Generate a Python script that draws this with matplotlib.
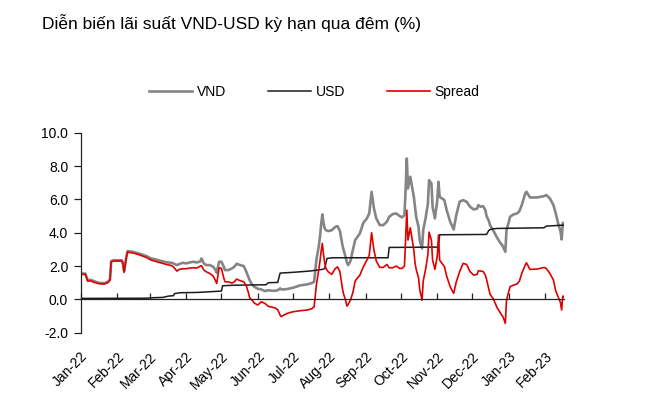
import matplotlib
matplotlib.use('Agg')
import matplotlib.pyplot as plt
from matplotlib.ticker import FormatStrFormatter
import pandas as pd

plt.rcParams['font.family'] = ['Liberation Sans', 'DejaVu Sans']

# VND overnight rate and VND-USD spread (%)
dates = ['2022-01-01', '2022-01-05', '2022-01-07', '2022-01-09', '2022-01-12', '2022-01-16',
         '2022-01-21', '2022-01-24', '2022-01-26', '2022-01-27', '2022-01-29', '2022-02-05',
         '2022-02-06', '2022-02-07', '2022-02-09', '2022-02-10', '2022-02-15', '2022-02-19',
         '2022-02-22', '2022-02-26', '2022-03-02', '2022-03-07', '2022-03-12', '2022-03-16',
         '2022-03-19', '2022-03-21', '2022-03-24', '2022-03-26', '2022-03-29', '2022-04-01',
         '2022-04-04', '2022-04-07', '2022-04-10', '2022-04-13', '2022-04-14', '2022-04-16',
         '2022-04-18', '2022-04-21', '2022-04-24', '2022-04-26', '2022-04-27', '2022-04-29',
         '2022-05-01', '2022-05-03', '2022-05-04', '2022-05-07', '2022-05-10', '2022-05-12',
         '2022-05-14', '2022-05-17', '2022-05-20', '2022-05-22', '2022-05-24', '2022-05-25',
         '2022-05-27', '2022-05-29', '2022-06-01', '2022-06-04', '2022-06-07', '2022-06-10',
         '2022-06-13', '2022-06-16', '2022-06-18', '2022-06-20', '2022-06-21', '2022-06-23',
         '2022-06-26', '2022-07-01', '2022-07-07', '2022-07-13', '2022-07-17', '2022-07-19',
         '2022-07-20', '2022-07-21', '2022-07-23', '2022-07-24', '2022-07-25', '2022-07-26',
         '2022-07-27', '2022-07-28', '2022-07-29', '2022-07-31', '2022-08-03', '2022-08-06',
         '2022-08-08', '2022-08-10', '2022-08-12', '2022-08-13', '2022-08-15', '2022-08-16',
         '2022-08-17', '2022-08-19', '2022-08-21', '2022-08-23', '2022-08-24', '2022-08-27',
         '2022-08-30', '2022-09-02', '2022-09-04', '2022-09-06', '2022-09-08', '2022-09-10',
         '2022-09-13', '2022-09-16', '2022-09-19', '2022-09-21', '2022-09-24', '2022-09-27',
         '2022-09-30', '2022-10-02', '2022-10-04', '2022-10-05', '2022-10-06', '2022-10-07',
         '2022-10-09', '2022-10-10', '2022-10-12', '2022-10-13', '2022-10-14', '2022-10-16',
         '2022-10-17', '2022-10-19', '2022-10-20', '2022-10-22', '2022-10-24', '2022-10-25',
         '2022-10-27', '2022-10-28', '2022-10-30', '2022-11-01', '2022-11-02', '2022-11-03',
         '2022-11-05', '2022-11-07', '2022-11-09', '2022-11-12', '2022-11-15', '2022-11-17',
         '2022-11-20', '2022-11-23', '2022-11-26', '2022-11-29', '2022-12-02', '2022-12-05',
         '2022-12-06', '2022-12-08', '2022-12-10', '2022-12-12', '2022-12-13', '2022-12-15',
         '2022-12-16', '2022-12-19', '2022-12-22', '2022-12-25', '2022-12-26', '2022-12-27',
         '2022-12-29', '2022-12-30', '2023-01-01', '2023-01-02', '2023-01-05', '2023-01-08',
         '2023-01-10', '2023-01-12', '2023-01-15', '2023-01-16', '2023-01-19', '2023-01-25',
         '2023-01-31', '2023-02-02', '2023-02-05', '2023-02-08', '2023-02-10', '2023-02-12',
         '2023-02-14', '2023-02-15', '2023-02-16', '2023-02-17']

vnd = [1.55, 1.55, 1.15, 1.18, 1.10, 1.00,
       0.97, 1.05, 1.20, 2.30, 2.35, 2.35,
       2.20, 1.70, 2.60, 2.90, 2.85, 2.76,
       2.70, 2.60, 2.46, 2.38, 2.28, 2.22,
       2.20, 2.16, 2.06, 2.12, 2.20, 2.16,
       2.22, 2.26, 2.22, 2.28, 2.46, 2.16,
       2.06, 2.06, 1.96, 1.76, 1.60, 2.26,
       2.26, 1.96, 1.76, 1.76, 1.86, 1.96,
       2.14, 2.06, 2.00, 1.70, 1.35, 1.16,
       0.90, 0.76, 0.64, 0.60, 0.50, 0.55,
       0.52, 0.52, 0.55, 0.66, 0.60, 0.60,
       0.62, 0.70, 0.84, 0.90, 0.98, 1.06,
       1.70, 2.40, 3.20, 3.76, 4.50, 5.10,
       4.60, 4.26, 4.16, 4.10, 4.15, 4.35,
       4.40, 4.10, 3.30, 3.00, 2.50, 2.20,
       2.06, 2.30, 2.96, 3.56, 3.66, 3.96,
       4.60, 4.86, 5.16, 6.46, 5.46, 4.86,
       4.46, 4.46, 4.66, 4.96, 5.12, 5.16,
       5.00, 4.92, 5.06, 6.56, 8.46, 6.66,
       7.36, 6.96, 6.16, 5.56, 4.96, 4.36,
       3.56, 3.06, 4.16, 4.86, 5.76, 7.16,
       6.96, 5.56, 4.86, 5.96, 7.06, 6.16,
       6.06, 5.96, 5.36, 4.66, 4.20, 5.00,
       5.86, 5.96, 5.86, 5.56, 5.40, 5.45,
       5.66, 5.56, 5.60, 5.36, 5.00, 4.70,
       4.45, 4.10, 3.70, 3.36, 3.30, 3.16,
       2.86, 4.16, 4.66, 4.96, 5.10, 5.16,
       5.30, 5.66, 6.36, 6.46, 6.12, 6.12,
       6.20, 6.26, 6.06, 5.66, 5.16, 4.56,
       4.10, 3.60, 4.60, 4.50]

spread = [1.50, 1.50, 1.10, 1.12, 1.04, 0.95,
          0.92, 1.00, 1.15, 2.25, 2.30, 2.30,
          2.14, 1.62, 2.52, 2.84, 2.78, 2.70,
          2.62, 2.52, 2.36, 2.26, 2.16, 2.08,
          2.04, 1.96, 1.70, 1.80, 1.84, 1.84,
          1.88, 1.90, 1.88, 2.00, 2.02, 1.76,
          1.66, 1.56, 1.40, 1.10, 0.96, 1.90,
          1.86, 1.28, 1.06, 1.05, 0.98, 1.06,
          1.22, 1.12, 1.06, 0.86, 0.40, 0.10,
          -0.04, -0.22, -0.34, -0.14, -0.24, -0.42,
          -0.46, -0.52, -0.62, -0.94, -1.04, -0.95,
          -0.84, -0.74, -0.68, -0.64, -0.56, -0.44,
          0.20, 0.90, 1.80, 2.30, 2.90, 3.36,
          2.70, 2.20, 1.86, 1.66, 1.50, 1.85,
          1.95, 1.66, 0.70, 0.36, -0.10, -0.40,
          -0.30, -0.04, 0.40, 1.10, 1.20, 1.46,
          1.96, 2.36, 2.66, 4.00, 2.96, 2.30,
          1.92, 1.92, 2.10, 1.90, 1.90, 2.00,
          1.86, 1.86, 2.00, 3.60, 5.36, 3.56,
          4.30, 3.86, 2.96, 2.20, 1.80, 1.30,
          0.60, -0.04, 1.10, 1.80, 2.70, 4.04,
          3.56, 2.36, 1.80, 2.60, 3.86, 2.36,
          2.16, 1.98, 1.40, 0.76, 0.36, 1.00,
          1.66, 2.16, 2.10, 1.66, 1.46, 1.50,
          1.72, 1.70, 1.68, 1.46, 1.20, 0.60,
          0.30, 0.00, -0.50, -0.84, -0.95, -1.04,
          -1.44, -0.04, 0.50, 0.76, 0.86, 0.92,
          1.10, 1.56, 2.06, 2.20, 1.80, 1.82,
          1.92, 1.85, 1.56, 1.16, 0.50, 0.16,
          -0.20, -0.64, 0.20, 0.15]

# USD overnight rate (%), step-like
usd_dates = ['2022-01-01', '2022-02-25', '2022-03-04', '2022-03-12', '2022-03-17', '2022-03-21',
             '2022-03-22', '2022-03-27', '2022-04-11', '2022-04-21', '2022-05-01', '2022-05-02',
             '2022-05-11', '2022-06-08', '2022-06-10', '2022-06-18', '2022-06-20', '2022-06-30',
             '2022-07-15', '2022-07-26', '2022-07-28', '2022-07-30', '2022-08-04', '2022-09-20',
             '2022-09-21', '2022-11-02', '2022-11-03', '2022-12-13', '2022-12-15', '2022-12-17',
             '2022-12-22', '2023-01-31', '2023-02-02', '2023-02-17']
usd = [0.06, 0.07, 0.10, 0.12, 0.20, 0.22,
       0.35, 0.40, 0.42, 0.46, 0.50, 0.82,
       0.85, 0.88, 1.00, 1.02, 1.58, 1.62,
       1.70, 1.80, 1.85, 2.46, 2.50, 2.50,
       3.12, 3.14, 3.88, 3.90, 4.15, 4.22,
       4.26, 4.30, 4.40, 4.46]

y_ticks = [-2, 0, 2, 4, 6, 8, 10]
month_ticks = pd.date_range('2022-01-01', '2023-02-01', freq='MS')

fig = plt.figure(figsize=(6.49, 3.96), dpi=100)
ax = fig.add_axes([0.1243, 0.1598, 0.7447, 0.5048])

l1, = ax.plot(pd.to_datetime(dates), vnd, color='#858585', lw=1.9, label='VND')
l2, = ax.plot(pd.to_datetime(usd_dates), usd, color='#1c1c1c', lw=1.1, label='USD')
l3, = ax.plot(pd.to_datetime(dates), spread, color='#e00000', lw=1.2, label='Spread')

ax.set_ylim(-2, 10)
ax.set_xlim(pd.Timestamp('2022-01-01'), pd.Timestamp('2023-02-17'))
ax.set_yticks(y_ticks)
ax.yaxis.set_major_formatter(FormatStrFormatter('%.1f'))

for s in ['top', 'right']:
	ax.spines[s].set_visible(False)
ax.spines['bottom'].set_position(('data', 0))
for s in ['bottom', 'left']:
	ax.spines[s].set_color('#222222')
	ax.spines[s].set_linewidth(0.9)

ax.set_xticks(month_ticks)
ax.set_xticklabels([d.strftime('%b-%y') for d in month_ticks], rotation=45, ha='right', rotation_mode='anchor')
ax.tick_params(axis='x', direction='in', length=4, width=0.9, pad=36, labelsize=10, colors='#222222', labelcolor='black')
ax.tick_params(axis='y', direction='out', length=5, width=0.9, pad=4, labelsize=10, colors='#222222', labelcolor='black')

fig.legend(handles=[l1, l2, l3], loc='center', bbox_to_anchor=(0.484, 0.768), ncol=3, frameon=False,
           handlelength=3.1, columnspacing=3.0, handletextpad=0.35, fontsize=10)

fig.text(0.064, 1 - 29 / 396.0, 'Diễn biến lãi suất VND-USD kỳ hạn qua đêm (%)', fontsize=12.5, va='baseline', ha='left')

fig.savefig('out.png', dpi=100)
